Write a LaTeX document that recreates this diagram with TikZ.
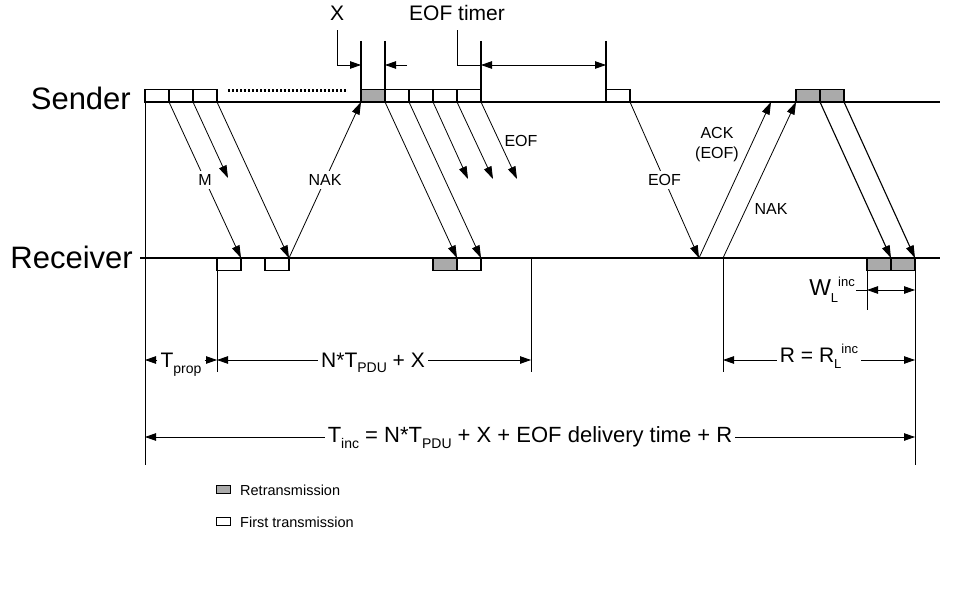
\documentclass[tikz,border=0pt]{standalone}
\usepackage{fontspec}
\setmainfont{Liberation Sans}
\usetikzlibrary{arrows.meta}
\definecolor{retx}{RGB}{170,170,170}
\newcommand\fsz[1]{\fontsize{#1}{#1}\selectfont}
\begin{document}
\begin{tikzpicture}[x=1pt,y=-1pt,
  pkt/.style={draw, line width=1.1pt, fill=white, minimum width=24pt, minimum height=12.5pt, inner sep=0pt, outer sep=0pt},
  rpkt/.style={pkt, fill=retx},
  tl/.style={line width=1.3pt},
  tick/.style={line width=1.1pt},
  msg/.style={line width=0.8pt, -{Triangle[length=12.5pt,width=8pt]}},
  dim/.style={line width=0.8pt},
  dimarr/.style={line width=0.8pt, -{Triangle[length=11pt,width=7.5pt]}},
  brk/.style={font=\fsz{16}, fill=white, inner sep=3pt},
  lbl/.style={font=\fsz{16}, inner sep=1pt},
  big/.style={font=\fsz{31}, inner sep=0pt},
  mid/.style={font=\fsz{21}, inner sep=3pt},
  leg/.style={font=\fsz{14.5}, inner sep=0pt, anchor=west}
]
\path[fill=white] (0,0) rectangle (960,596);
\useasboundingbox (0,0) rectangle (960,596);

% time lines
\draw[tl] (145,102) -- (940,102);
\draw[tl] (140,258) -- (940,258);
\node[big, anchor=base east] (snd) at (131,110) {Sender};
\node[big, anchor=base east] (rcv) at (133,268) {Receiver};

% dotted run
\draw[line width=2.3pt, dash pattern=on 2.4pt off 1.6pt] (228,90.5) -- (347,90.5);

% sender packets
\node[pkt, anchor=south west] (s1) at (145,102) {};
\node[pkt, anchor=south west] (s2) at (169,102) {};
\node[pkt, anchor=south west] (s3) at (193,102) {};
\node[rpkt, anchor=south west] (g1) at (361,102) {};
\node[pkt, anchor=south west] (s4) at (385,102) {};
\node[pkt, anchor=south west] (s5) at (409,102) {};
\node[pkt, anchor=south west] (s6) at (433,102) {};
\node[pkt, anchor=south west] (s7) at (457,102) {};
\node[pkt, anchor=south west] (s8) at (606,102) {};
\node[rpkt, anchor=south west] (g2) at (796,102) {};
\node[rpkt, anchor=south west] (g3) at (820,102) {};

% receiver packets
\node[pkt, anchor=north west] (r1) at (217,258) {};
\node[pkt, anchor=north west] (r2) at (265,258) {};
\node[rpkt, anchor=north west] (rg1) at (433,258) {};
\node[pkt, anchor=north west] (r3) at (457,258) {};
\node[rpkt, anchor=north west] (rg2) at (867,258) {};
\node[rpkt, anchor=north west] (rg3) at (891,258) {};

% free ends
\coordinate (a2) at (228,178);
\coordinate (a5) at (468,179);
\coordinate (a6) at (493,179);
\coordinate (a7) at (517,179);
\coordinate (eofend) at (699,258);
\coordinate (ackend) at (771,102);
\coordinate (nakst) at (723,258);

% messages
\draw[msg] (s1.south east) -- node[brk] {M} (r1.north east);
\draw[msg] (s2.south east) -- (a2);
\draw[msg] (s3.south east) -- (r2.north east);
\draw[msg] (r2.north east) -- node[brk] {NAK} (g1.south west);
\draw[msg] (g1.south east) -- (rg1.north east);
\draw[msg] (s4.south east) -- (r3.north east);
\draw[msg] (s5.south east) -- (a5);
\draw[msg] (s6.south east) -- (a6);
\draw[msg] (s7.south east) -- (a7);
\node[lbl] (eofl) at (521,141) {EOF};
\draw[msg] (s8.south east) -- node[brk] {EOF} (eofend);
\draw[msg] (eofend) -- (ackend);
\node[lbl, align=center, font=\fontsize{16}{20}\selectfont] (ackl) at (717,145) {ACK\\(EOF)};
\draw[msg] (nakst) -- (g2.south west);
\node[lbl] (nakl) at (771,209) {NAK};
\draw[msg, line width=1.1pt] (g2.south east) -- (rg2.north east);
\draw[msg, line width=1.1pt] (g3.south east) -- (rg3.north east);

% X marker
\node[mid, anchor=base, inner sep=0pt] (xl) at (337,21) {X};
\coordinate (xa) at (361,65);
\coordinate (xc) at (407,65);
\coordinate (xb) at (385,65);
\draw[tick] (361,41) -- (g1.north west);
\draw[tick] (385,41) -- (g1.north east);
\draw[dimarr] ([yshift=-9pt]xl.south) |- (xa);
\draw[dimarr] (xc) -- (xb);

% EOF timer
\node[mid, anchor=base, inner sep=0pt] (eoft) at (457,21) {EOF timer};
\coordinate (ea) at (481,65);
\coordinate (eb) at (606,65);
\draw[tick] (481,41) -- (s7.north east);
\draw[tick] (606,41) -- (s8.north west);
\draw[dim] ([yshift=-9pt]eoft.south) |- (ea);
\draw[dim, {Triangle[length=11pt,width=7.5pt]}-{Triangle[length=11pt,width=7.5pt]}] (ea) -- (eb);

% vertical extension lines
\draw[dim] (145,102) -- (145,465);
\draw[dim] (r1.south west) -- (217,372);
\draw[dim] (531,258) -- (531,372);
\draw[dim] (nakst) -- (723,372);
\draw[dim] (rg2.south west) -- (867,310);
\draw[dim] (rg3.south east) -- (915,465);

% T_prop
\node[mid, anchor=base] (tprop) at (181,367) {T\raisebox{-6pt}{\fsz{14}prop}};
\draw[dimarr] (tprop.west |- 0,360) -- (145,360);
\draw[dimarr] (tprop.east |- 0,360) -- (217,360);

% N*T_PDU + X
\node[mid, anchor=base] (ntx) at (373,367) {N*T\raisebox{-5pt}{\fsz{14}PDU} + X};
\draw[dimarr] (ntx.west |- 0,360) -- (217,360);
\draw[dimarr] (ntx.east |- 0,360) -- (531,360);

% R = R_L^inc
\node[mid, anchor=base] (rr) at (819,362) {R = R\raisebox{-6pt}{\fsz{13}L}\raisebox{9pt}{\fsz{13}inc}};
\draw[dimarr] (rr.west |- 0,360) -- (723,360);
\draw[dimarr] (rr.east |- 0,360) -- (915,360);

% W_L^inc
\node[font=\fsz{23}, anchor=base east, inner sep=1pt] (wl) at (856,295) {W\raisebox{-7pt}{\fsz{13}L}\raisebox{9pt}{\fsz{13}inc}};
\coordinate (wa) at (867,290);
\coordinate (wb) at (915,290);
\draw[dim] (wl.east |- 0,290) -- (wa);
\draw[dim, {Triangle[length=11pt,width=7.5pt]}-{Triangle[length=11pt,width=7.5pt]}] (wa) -- (wb);

% T_inc
\node[font=\fsz{22}, inner sep=3pt, anchor=base] (tinc) at (530,442) {T\raisebox{-6pt}{\fsz{14}inc} = N*T\raisebox{-6pt}{\fsz{14}PDU} + X + EOF delivery time + R};
\draw[dimarr] (tinc.west |- 0,437) -- (145,437);
\draw[dimarr] (tinc.east |- 0,437) -- (915,437);

% legend
\node[rpkt, minimum width=14pt, minimum height=8pt, line width=0.9pt] (lg1) at (223,489) {};
\node[leg] (lt1) at (240,490) {Retransmission};
\node[pkt, minimum width=14pt, minimum height=8pt, line width=0.9pt] (lg2) at (223,521) {};
\node[leg] (lt2) at (240,522) {First transmission};
\end{tikzpicture}
\end{document}
